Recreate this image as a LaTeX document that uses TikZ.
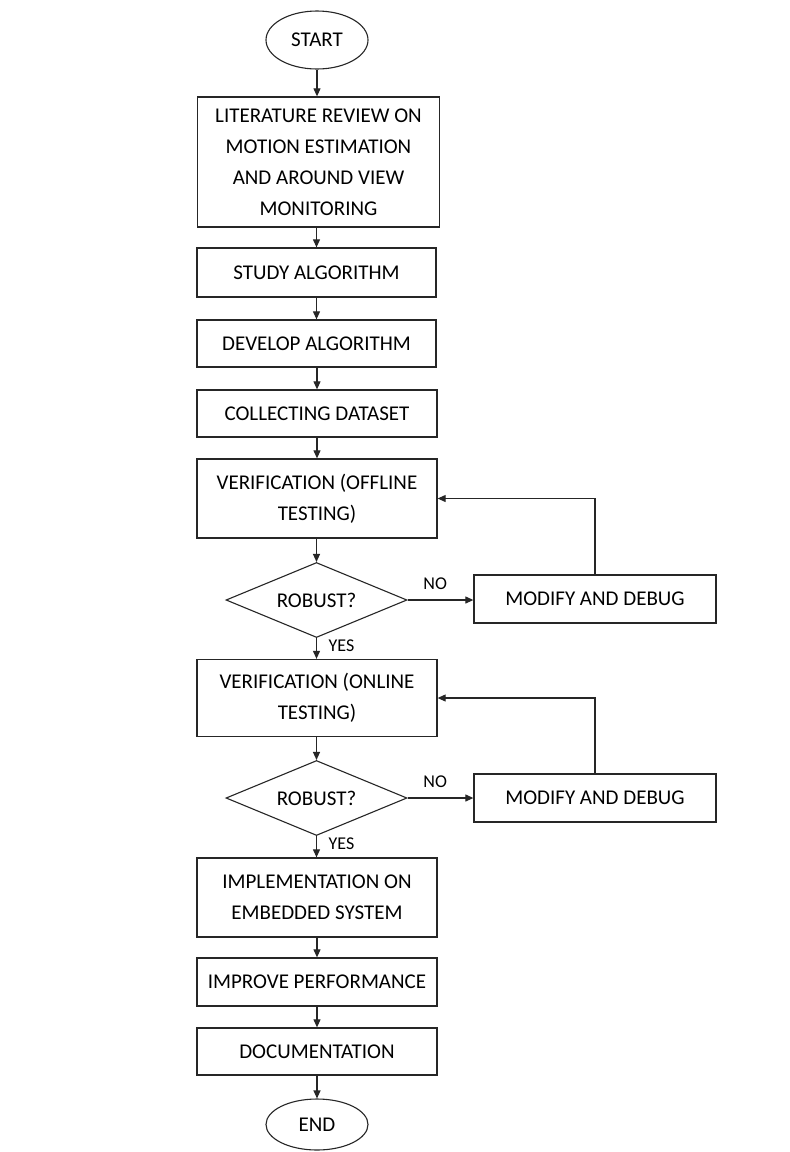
\documentclass[tikz,border=0pt]{standalone}
\usepackage{fontspec}
\setmainfont{Carlito}
\usetikzlibrary{shapes.geometric,arrows.meta}
\begin{document}
\begin{tikzpicture}[x=1pt,y=-1pt,
  every node/.style={inner sep=0pt, text=black},
  stepbox/.style={draw=black!85, line width=1.3pt, rectangle, align=center,
    font=\fontsize{21}{31}\selectfont, minimum width=240pt},
  term/.style={draw=black!85, line width=1.1pt, ellipse, minimum width=102pt,
    font=\fontsize{21}{31}\selectfont},
  decision/.style={draw=black!85, line width=1.1pt, diamond, aspect=2.4,
    minimum width=181pt, minimum height=75pt, font=\fontsize{21}{31}\selectfont},
  lbl/.style={font=\fontsize{18}{20}\selectfont},
  arr/.style={draw=black!85, line width=1.1pt, -{Triangle[length=8pt,width=7pt]}}
]
\path[fill=white] (0,0) rectangle (790,1152);
\useasboundingbox (0,0) rectangle (790,1152);

\node[term, minimum height=58pt] (start) at (317,40) {START};
\node[stepbox, minimum width=242pt, minimum height=130pt] (lit) at (318.5,162)
  {LITERATURE REVIEW ON\\MOTION ESTIMATION\\AND AROUND VIEW\\MONITORING};
\node[stepbox, minimum width=239pt, minimum height=49pt] (study) at (316.5,272.5) {STUDY ALGORITHM};
\node[stepbox, minimum width=239pt, minimum height=47pt] (develop) at (316.5,343.5) {DEVELOP ALGORITHM};
\node[stepbox, minimum height=47pt] (collect) at (317,413.5) {COLLECTING DATASET};
\node[stepbox, minimum height=79pt] (off) at (317,498.5) {VERIFICATION (OFFLINE\\TESTING)};
\node[decision] (d1) at (316.5,600) {ROBUST?};
\node[stepbox, minimum width=242pt, minimum height=48pt] (mod1) at (595,599) {MODIFY AND DEBUG};
\node[stepbox, minimum height=77pt] (on) at (317,698) {VERIFICATION (ONLINE\\TESTING)};
\node[decision] (d2) at (316.5,798) {ROBUST?};
\node[stepbox, minimum width=242pt, minimum height=48pt] (mod2) at (595,798) {MODIFY AND DEBUG};
\node[stepbox, minimum height=79pt] (impl) at (317,897.5) {IMPLEMENTATION ON\\EMBEDDED SYSTEM};
\node[stepbox, minimum height=48pt] (improve) at (317,982) {IMPROVE PERFORMANCE};
\node[stepbox, minimum height=47pt] (doc) at (317,1051.5) {DOCUMENTATION};
\node[term, minimum height=51pt] (end) at (317,1124.5) {END};

\draw[arr] (start) -- (start |- lit.north);
\draw[arr] (lit.south -| study) -- (study);
\draw[arr] (study) -- (develop);
\draw[arr] (develop.south -| collect) -- (collect);
\draw[arr] (collect) -- (off);
\draw[arr] (off.south -| d1) -- (d1.north);
\draw[arr] (d1.east) -- node[lbl, pos=0.42, yshift=16pt] (no1) {NO} (mod1.west |- d1.east);
\draw[arr] (d1.south) -- node[lbl, pos=0.38, xshift=25pt] (yes1) {YES} (d1.south |- on.north);
\draw[arr] (mod1.north) -- (mod1.north |- off.east) -- (off.east);
\draw[arr] (on.south -| d2) -- (d2.north);
\draw[arr] (d2.east) -- node[lbl, pos=0.42, yshift=16pt] (no2) {NO} (mod2.west |- d2.east);
\draw[arr] (d2.south) -- node[lbl, pos=0.38, xshift=25pt] (yes2) {YES} (d2.south |- impl.north);
\draw[arr] (mod2.north) -- (mod2.north |- on.east) -- (on.east);
\draw[arr] (impl) -- (improve);
\draw[arr] (improve) -- (doc);
\draw[arr] (doc) -- (end);
\end{tikzpicture}
\end{document}
